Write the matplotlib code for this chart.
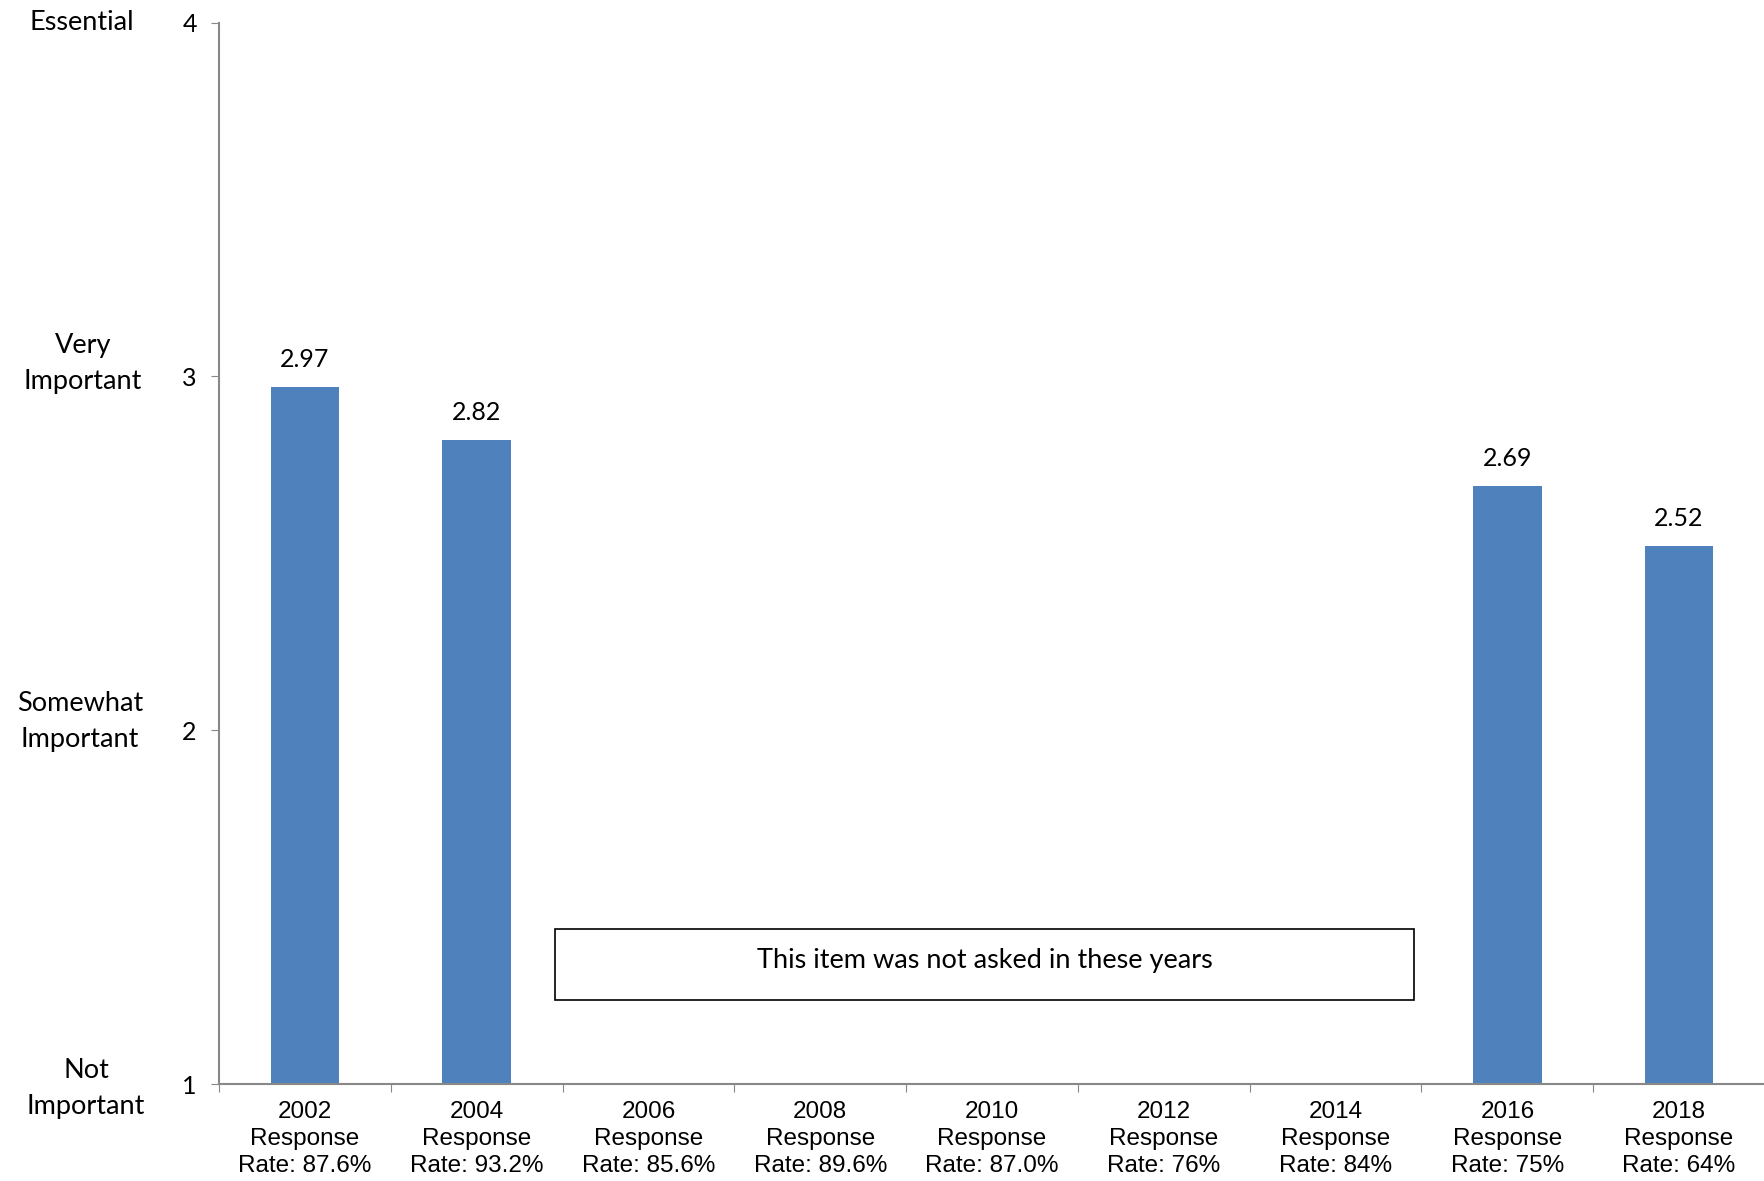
import matplotlib
matplotlib.use("Agg")
import matplotlib.pyplot as plt
from matplotlib.patches import Rectangle
from matplotlib import font_manager

years = ["2002", "2004", "2006", "2008", "2010", "2012", "2014", "2016", "2018"]
rates = ["87.6%", "93.2%", "85.6%", "89.6%", "87.0%", "76%", "84%", "75%", "64%"]
values = [2.97, 2.82, None, None, None, None, None, 2.69, 2.52]
scale_labels = ["Not\nImportant", "Somewhat\nImportant", "Very\nImportant", "Essential"]
scale_ticks = [1, 2, 3, 4]
note = "This item was not asked in these years"

names = {f.name for f in font_manager.fontManager.ttflist}
body_font = ["Lato", "DejaVu Sans"] if "Lato" in names else ["DejaVu Sans"]
narrow = "Liberation Sans Narrow" if "Liberation Sans Narrow" in names else "Liberation Sans"

fig = plt.figure(figsize=(17.65, 11.81), dpi=100)
ax = fig.add_axes([219/1765, 1 - 1084/1181, 1 - 219/1765, (1084 - 22.5)/1181])

bar_color = "#4F81BD"
xs = list(range(len(years)))
for x, v in zip(xs, values):
    if v is None:
        continue
    ax.bar(x, v - 1, bottom=1, width=0.40, color=bar_color, zorder=2)
    ax.text(x, v + 0.045, f"{v:.2f}", ha="center", va="bottom", fontsize=18, family=body_font)

ax.set_xlim(-0.5, len(years) - 0.5)
ax.set_ylim(1, 4)

# note box
ax.add_patch(Rectangle((1.455, 1.237), 6.457 - 1.455, 1.438 - 1.237, fill=False,
                       edgecolor="black", linewidth=1.2, zorder=3))
ax.text((1.455 + 6.457) / 2, 1.35, note, ha="center", va="center", fontsize=19.5, family=body_font)

for s in ["top", "right"]:
    ax.spines[s].set_visible(False)
for s in ["left", "bottom"]:
    ax.spines[s].set_color("#888888")
    ax.spines[s].set_linewidth(1.5)

ax.set_yticks(scale_ticks)
ax.set_yticklabels([str(t) for t in scale_ticks], fontsize=18, family=body_font)
ax.tick_params(axis="y", length=6, color="#888888", pad=10)

# x ticks at boundaries
ax.set_xticks([i - 0.5 for i in range(len(years) + 1)])
ax.set_xticklabels([])
ax.tick_params(axis="x", length=6, color="#888888", direction="out")
for x, y, r in zip(xs, years, rates):
    ax.text(x, -0.016, f"{y}\nResponse\nRate: {r}", transform=ax.get_xaxis_transform(),
            ha="center", va="top", fontsize=17.5, family=narrow, linespacing=1.3)

label_shift = [-0.012, 0.025, 0.035, 0.0]
label_x = [-0.086, -0.090, -0.088, -0.089]
for t, lab, sh, lx in zip(scale_ticks, scale_labels, label_shift, label_x):
    ax.text(lx, t + sh, lab, transform=ax.get_yaxis_transform(), ha="center", va="center",
            fontsize=19.5, family=body_font, linespacing=1.55)

fig.savefig("out.png", dpi=100)
